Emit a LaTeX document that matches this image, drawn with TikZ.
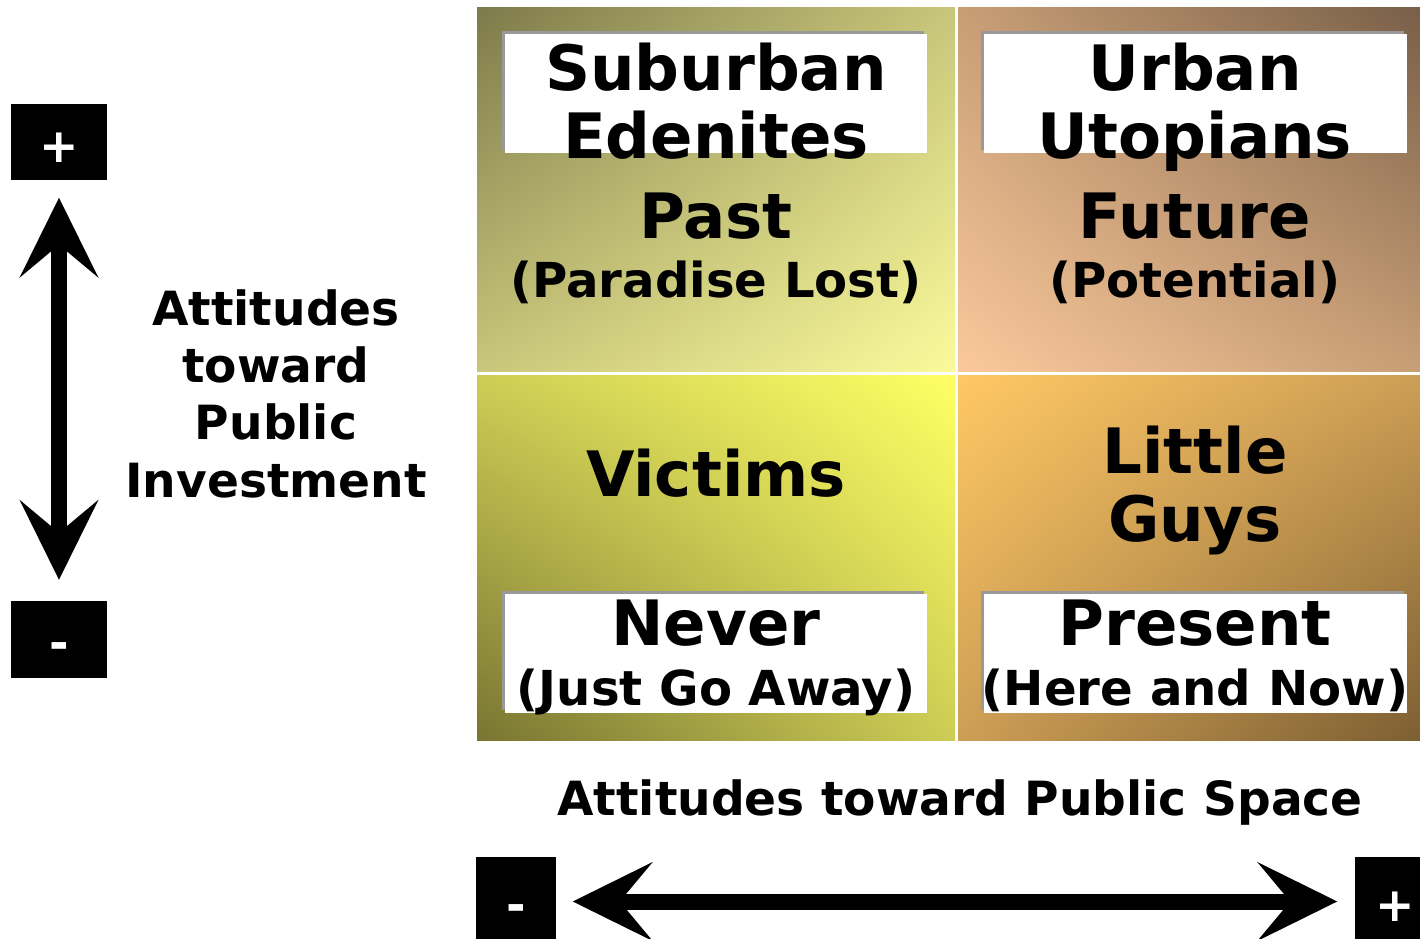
\documentclass[tikz,border=0pt]{standalone}
\usepackage{fontspec}
\setmainfont{DejaVu Sans}
\usetikzlibrary{arrows.meta,shadows,shadings}

\definecolor{oliveDark}{RGB}{125,122,75}
\definecolor{oliveMid}{RGB}{200,198,122}
\definecolor{paleYellow}{RGB}{250,250,155}
\definecolor{brownDark}{RGB}{120,95,72}
\definecolor{tanMid}{RGB}{200,158,118}
\definecolor{peach}{RGB}{250,200,155}
\definecolor{mossDark}{RGB}{120,117,50}
\definecolor{mossMid}{RGB}{205,205,85}
\definecolor{brightYellow}{RGB}{255,255,100}
\definecolor{umberDark}{RGB}{125,95,50}
\definecolor{ochreMid}{RGB}{205,158,85}
\definecolor{orangeLight}{RGB}{255,200,100}

\begin{document}
\begin{tikzpicture}[x=0.01cm, y=0.01cm,
  big label/.style={font=\fontsize{17.8}{19.2}\selectfont\bfseries, align=center, anchor=base, inner sep=0pt},
  small label/.style={font=\fontsize{13.7}{16}\selectfont\bfseries, anchor=base, inner sep=0pt},
  axis label/.style={font=\fontsize{13.4}{16.3}\selectfont\bfseries, align=center, anchor=base, inner sep=0pt},
  sign node/.style={fill=black, text=white, inner sep=0pt, font=\fontsize{13.4}{16}\selectfont\bfseries, text height=1.15em, text depth=0pt},
  label box/.style={fill=white, drop shadow={shadow xshift=-0.03cm, shadow yshift=0.03cm, fill=gray!80, opacity=1}},
  big arrow/.style={>={Stealth[length=0.8cm, width=0.79cm, inset=0.33cm, line width=0pt]}, <->, line width=0.16cm}]

  \useasboundingbox (0,0) rectangle (1420,938);
  \clip (0,0) rectangle (1420,938);

  \shade[upper left=oliveDark, lower right=paleYellow, upper right=oliveMid, lower left=oliveMid] (477,567) rectangle (955,931);
  \shade[upper right=brownDark, lower left=peach, upper left=tanMid, lower right=tanMid] (958,567) rectangle (1420,931);
  \shade[lower left=mossDark, upper right=brightYellow, upper left=mossMid, lower right=mossMid] (477,198) rectangle (955,563);
  \shade[lower right=umberDark, upper left=orangeLight, upper right=ochreMid, lower left=ochreMid] (958,198) rectangle (1420,563);

  \fill[label box] (505,785) rectangle (927,904);
  \fill[label box] (984,785) rectangle (1407,904);
  \fill[label box] (505,225) rectangle (927,344);
  \fill[label box] (984,225) rectangle (1407,344);

  \node[big label] (suburban) at (716,780) {Suburban\\Edenites};
  \node[big label] (past) at (716,700) {Past};
  \node[small label] (lost) at (716,641) {(Paradise Lost)};
  \node[big label] (urban) at (1195,780) {Urban\\Utopians};
  \node[big label] (future) at (1195,700) {Future};
  \node[small label] (potential) at (1195,641) {(Potential)};
  \node[big label] (victims) at (716,442) {Victims};
  \node[big label] (little) at (1195,397) {Little\\Guys};
  \node[big label] (never) at (716,293) {Never};
  \node[small label] (away) at (716,233) {(Just Go Away)};
  \node[big label] (present) at (1195,293) {Present};
  \node[small label] (herenow) at (1195,233) {(Here and Now)};

  \node[axis label] (investment) at (276,441) {Attitudes\\toward\\Public\\Investment};
  \node[axis label] (space) at (960,123) {Attitudes toward Public Space};

  \node[sign node, minimum width=0.96cm, minimum height=0.76cm] (plusv) at (59,796) {+};
  \node[sign node, minimum width=0.96cm, minimum height=0.76cm] (minusv) at (59,298.5) {-};
  \node[sign node, minimum width=0.8cm, minimum height=0.89cm] (minush) at (516,36.5) {-};
  \node[sign node, minimum width=0.8cm, minimum height=0.89cm] (plush) at (1395,36.5) {+};

  \path[] (plusv) [big arrow, shorten <=0.17cm, shorten >=0.21cm] edge (minusv);
  \path[] (minush) [big arrow, shorten <=0.16cm, shorten >=0.17cm] edge (plush);
\end{tikzpicture}
\end{document}
